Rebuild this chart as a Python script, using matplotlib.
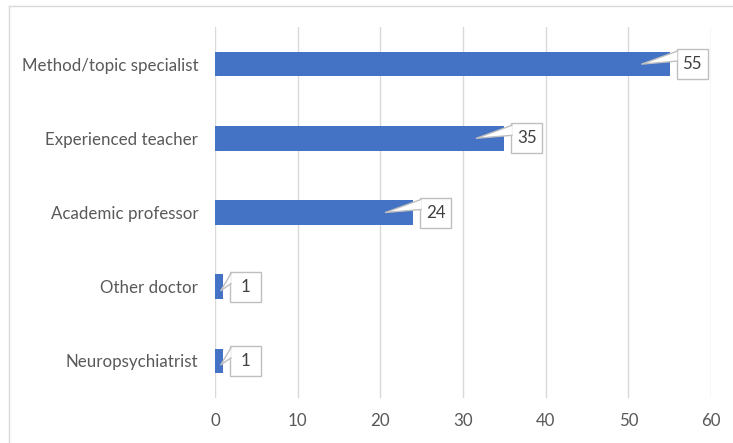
import matplotlib.pyplot as plt
from matplotlib.patches import Rectangle, Polygon
from matplotlib.lines import Line2D
import numpy as np

categories = ["Method/topic specialist", "Experienced teacher", "Academic professor",
              "Other doctor", "Neuropsychiatrist"]
counts = [55, 35, 24, 1, 1]
x_ticks = [0, 10, 20, 30, 40, 50, 60]

plt.rcParams['font.family'] = ['Lato', 'DejaVu Sans']

W, H = 733, 443
fig = plt.figure(figsize=(W / 100, H / 100), dpi=100)
ax = fig.add_axes([215 / W, 45 / H, 496 / W, 371 / H])

y = np.arange(len(categories))[::-1]
ax.barh(y, counts, height=0.33, color='#4472C4', zorder=2)

ax.set_xlim(0, 60)
ax.set_ylim(-0.5, len(categories) - 0.5)
ax.set_xticks(x_ticks)
ax.set_yticks(y)
ax.set_yticklabels(categories)
ax.grid(axis='x', color='#D9D9D9', lw=1, zorder=0)
for s in ax.spines.values():
    s.set_visible(False)
ax.tick_params(axis='y', length=0, pad=12, labelsize=12.2, labelcolor='#595959')
ax.tick_params(axis='x', length=0, pad=11, labelsize=12.2, labelcolor='#595959')

# pixels per data unit
ppx = 496 / 60
ppy = 371 / len(categories)

# callout labels
for v, yc in zip(counts, y):
    bx0 = v + 7 / ppx
    bw = 31 / ppx
    bh = 30 / ppy
    ax.add_patch(Rectangle((bx0, yc - bh / 2), bw, bh, facecolor='white',
                           edgecolor='#BFBFBF', lw=1, zorder=3, clip_on=False))
    tip_px = min(28, v * ppx * 0.3)
    tip = (v - tip_px / ppx, yc - (0 if v > 5 else 4) / ppy)
    top = (bx0 + 0.6 / ppx, yc + 13 / ppy)
    bot = (bx0 + 0.6 / ppx, yc + 3 / ppy)
    ax.add_patch(Polygon([top, tip, bot], closed=True, facecolor='white',
                         edgecolor='none', zorder=4, clip_on=False))
    ax.plot([top[0], tip[0], bot[0]], [top[1], tip[1], bot[1]], color='#BFBFBF',
            lw=1, zorder=4, clip_on=False)
    ax.text(bx0 + bw / 2, yc, str(v), ha='center', va='center', fontsize=12.2,
            color='#404040', zorder=5)

# chart border (only left and top visible)
fig.add_artist(Line2D([9 / W, 9 / W], [0, 1 - 6 / H], color='#D9D9D9', lw=1))
fig.add_artist(Line2D([9 / W, 1], [1 - 6 / H, 1 - 6 / H], color='#D9D9D9', lw=1))

fig.savefig('out.png', dpi=100)
